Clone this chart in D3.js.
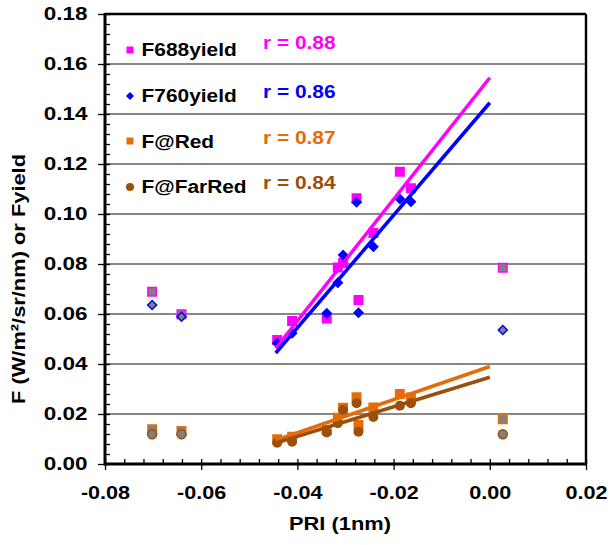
<!DOCTYPE html>
<html>
<head>
<meta charset="utf-8">
<script src="https://cdn.jsdelivr.net/npm/d3@7"></script>
<style>
  html, body { margin: 0; padding: 0; background: #fff; }
  text { font-family: "Liberation Sans", Arial, Helvetica, sans-serif; font-weight: bold; }
</style>
</head>
<body>
<script>
// ---------------- data ----------------
const pri      = [-0.0442, -0.0411, -0.0339, -0.0316, -0.0305, -0.0277, -0.0273, -0.0242, -0.0187, -0.0164];
const f688     = [0.0496, 0.0572, 0.0582, 0.0786, 0.0804, 0.1063, 0.0656, 0.0924, 0.1169, 0.1103];
const f760     = [0.0483, 0.0523, 0.0603, 0.0725, 0.0836, 0.1047, 0.0605, 0.0869, 0.1060, 0.1049];
const fRed     = [0.0099, 0.0109, 0.0136, 0.0185, 0.0225, 0.0267, 0.0156, 0.0226, 0.0280, 0.0266];
const fFarRed  = [0.0085, 0.0089, 0.0126, 0.0163, 0.0216, 0.0243, 0.0129, 0.0188, 0.0233, 0.0243];

// excluded points (grey fill)
const priOut     = [-0.0702, -0.0641, 0.0027];
const f688Out    = [0.0689, 0.0599, 0.0785];
const f760Out    = [0.0636, 0.0589, 0.0536];
const fRedOut    = [0.0139, 0.0132, 0.0179];
const fFarRedOut = [0.0119, 0.0119, 0.0119];

// trend lines (start / end)
const trendX        = [-0.0445, 0.0];
const f688Trend     = [0.0463, 0.1545];
const f760Trend     = [0.0444, 0.1445];
const fRedTrend     = [0.0095, 0.0390];
const fFarRedTrend  = [0.0084, 0.0347];

const seriesNames = ["F688yield", "F760yield", "F@Red", "F@FarRed"];
const rLabels     = ["r = 0.88", "r = 0.86", "r = 0.87", "r = 0.84"];

const xTicks = [-0.08, -0.06, -0.04, -0.02, 0.00, 0.02];
const yTicks = [0.00, 0.02, 0.04, 0.06, 0.08, 0.10, 0.12, 0.14, 0.16, 0.18];
const yGrid  = [0.02, 0.04, 0.06, 0.08, 0.10, 0.12, 0.14, 0.16];

// ---------------- drawing ----------------
const W = 610, H = 545;
const L = 105, R = 586, T = 14, B = 464;
const colors = ["#FF00FF", "#0000FF", "#E46C0A", "#9C4F0B"];
const grey = "#808080";

const svg = d3.select("body").append("svg").attr("width", W).attr("height", H);
const x = d3.scaleLinear().domain([-0.08, 0.02]).range([L, R]);
const y = d3.scaleLinear().domain([0, 0.18]).range([B, T]);

// gridlines
svg.append("g").selectAll("line").data(yGrid).join("line")
  .attr("x1", L).attr("x2", R)
  .attr("y1", d => y(d)).attr("y2", d => y(d))
  .attr("stroke", "#111").attr("stroke-width", 1.1);

// minor ticks
const xMinor = d3.range(0, 26).map(i => -0.08 + i * 0.004);
const yMinor = d3.range(0, 46).map(i => i * 0.004);

const fmt = d => (Math.abs(d) < 1e-9 ? 0 : d).toFixed(2);

const gxIn = svg.append("g").attr("transform", `translate(0,${B})`)
  .call(d3.axisTop(x).tickValues(xMinor).tickSize(5).tickFormat(""));
const gyIn = svg.append("g").attr("transform", `translate(${L},0)`)
  .call(d3.axisRight(y).tickValues(yMinor).tickSize(5).tickFormat(""));

const gx = svg.append("g").attr("transform", `translate(0,${B})`)
  .call(d3.axisBottom(x).tickValues(xTicks).tickSize(6).tickPadding(16).tickFormat(fmt));
const gy = svg.append("g").attr("transform", `translate(${L},0)`)
  .call(d3.axisLeft(y).tickValues(yTicks).tickSize(7).tickPadding(7).tickFormat(fmt));

[gxIn, gyIn, gx, gy].forEach(g => {
  g.select(".domain").remove();
  g.selectAll(".tick line").attr("stroke", "#000").attr("stroke-width", 1.3);
});
gx.selectAll("text").attr("font-size", 18).attr("fill", "#000")
  .attr("font-family", "Liberation Sans, Arial, sans-serif").attr("font-weight", "bold")
  .attr("transform", "scale(1.2,1)");
gy.selectAll("text").attr("font-size", 18).attr("fill", "#000")
  .attr("font-family", "Liberation Sans, Arial, sans-serif").attr("font-weight", "bold")
  .attr("transform", "scale(1.25,1)");

// frame
svg.append("line").attr("x1", L).attr("x2", R).attr("y1", T).attr("y2", T).attr("stroke", "#000").attr("stroke-width", 2.4);
svg.append("line").attr("x1", R).attr("x2", R).attr("y1", T).attr("y2", B).attr("stroke", "#000").attr("stroke-width", 2.4);
svg.append("line").attr("x1", L).attr("x2", L).attr("y1", T - 1).attr("y2", B + 1.5).attr("stroke", "#000").attr("stroke-width", 3);
svg.append("line").attr("x1", L).attr("x2", R + 1).attr("y1", B).attr("y2", B).attr("stroke", "#000").attr("stroke-width", 3);

// marker helpers
const shapes = [
  s => d3.symbol().type(d3.symbolSquare).size(s * s)(),
  s => d3.symbol().type(d3.symbolSquare).size(s * s / 2)(),   // rotated -> diamond, diagonal s
  s => d3.symbol().type(d3.symbolSquare).size(s * s)(),
  s => d3.symbol().type(d3.symbolCircle).size(Math.PI * s * s / 4)()
];
const rot = [0, 45, 0, 0];

const mainSeries = [f688, f760, fRed, fFarRed];
const outSeries  = [f688Out, f760Out, fRedOut, fFarRedOut];
const trends     = [f688Trend, f760Trend, fRedTrend, fFarRedTrend];
const sizes      = [10, 11, 10, 10];
const outSizes   = [8.5, 9, 8.5, 9];

// excluded (grey) markers
outSeries.forEach((vals, k) => {
  svg.append("g").selectAll("path").data(vals).join("path")
    .attr("d", shapes[k](outSizes[k]))
    .attr("transform", (d, i) => `translate(${x(priOut[i])},${y(d)}) rotate(${rot[k]})`)
    .attr("fill", grey).attr("stroke", colors[k]).attr("stroke-width", 1.5);
});

// main markers
mainSeries.forEach((vals, k) => {
  svg.append("g").selectAll("path").data(vals).join("path")
    .attr("d", shapes[k](sizes[k]))
    .attr("transform", (d, i) => `translate(${x(pri[i])},${y(d)}) rotate(${rot[k]})`)
    .attr("fill", colors[k]);
});

// trend lines
const line = d3.line().x(d => x(d[0])).y(d => y(d[1]));
trends.forEach((t, k) => {
  svg.append("path")
    .attr("d", line(trendX.map((xv, i) => [xv, t[i]])))
    .attr("stroke", colors[k]).attr("stroke-width", 3.5).attr("fill", "none");
});

// legend
const legMarkY = [50, 96, 141, 187];
const legTextY = [56, 102, 147.5, 193];
const rTextY   = [48.5, 97.5, 143.5, 188.5];
const legSizes = [7, 8, 7, 8];
seriesNames.forEach((name, k) => {
  svg.append("path")
    .attr("d", shapes[k](legSizes[k]))
    .attr("transform", `translate(130,${legMarkY[k]}) rotate(${rot[k]})`)
    .attr("fill", colors[k]);
  svg.append("text")
    .attr("transform", `translate(141.5,${legTextY[k]}) scale(1.1,1)`)
    .attr("font-size", 19).attr("fill", "#000").text(name);
  svg.append("text")
    .attr("transform", `translate(263,${rTextY[k]}) scale(1.1,1)`)
    .attr("font-size", 19).attr("fill", colors[k]).text(rLabels[k]);
});

// axis titles
svg.append("text")
  .attr("transform", "translate(340,530) scale(1.15,1)")
  .attr("text-anchor", "middle").attr("font-size", 19).attr("fill", "#000")
  .text("PRI (1nm)");
svg.append("text")
  .attr("transform", "translate(25,279) rotate(-90) scale(1.15,1)")
  .attr("text-anchor", "middle").attr("font-size", 19).attr("fill", "#000")
  .text("F (W/m²/sr/nm) or Fyield");
</script>
</body>
</html>
